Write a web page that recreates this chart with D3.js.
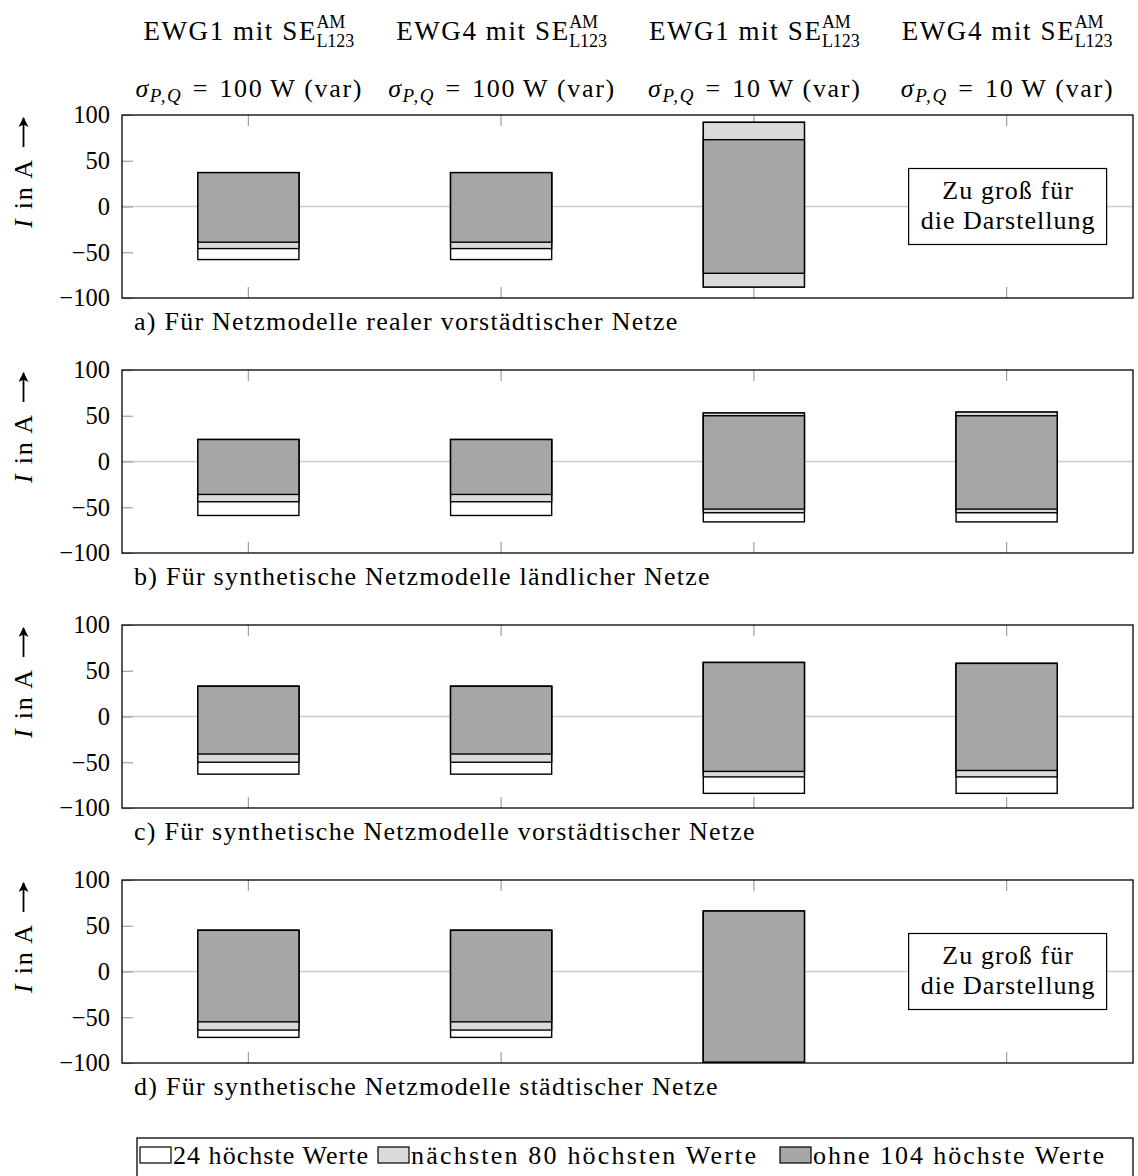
<!DOCTYPE html>
<html><head><meta charset="utf-8">
<script src="https://cdn.jsdelivr.net/npm/d3@7"></script>
<style>
body{margin:0;background:#fff}
text{font-family:"Liberation Serif","Times New Roman",serif;fill:#000}
</style>
</head><body>
<svg id="chart" width="1138" height="1176"></svg>
<script>
// ---------- data ----------
const categories = ["EWG1_100", "EWG4_100", "EWG1_10", "EWG4_10"];
const headerMain = ["EWG1 mit SE", "EWG4 mit SE", "EWG1 mit SE", "EWG4 mit SE"];
const headerSup = ["AM", "AM", "AM", "AM"];
const headerSub = ["L123", "L123", "L123", "L123"];
const sigmaValues = ["100", "100", "10", "10"];
const yTicks = [-100, -50, 0, 50, 100];
const panelTitles = [
  "a) Für Netzmodelle realer vorstädtischer Netze",
  "b) Für synthetische Netzmodelle ländlicher Netze",
  "c) Für synthetische Netzmodelle vorstädtischer Netze",
  "d) Für synthetische Netzmodelle städtischer Netze"
];
const legendLabels = ["24 höchste Werte", "nächsten 80 höchsten Werte", "ohne 104 höchste Werte"];
const tooLargeText = ["Zu groß für", "die Darstellung"];

// ranges [low, high] in A per category; null = too large to display
const aTop24  = [[-58, 37], [-58, 37], [-88, 92], null];
const aNext80 = [[-46, 37], [-46, 37], [-88, 92], null];
const aRest   = [[-39, 37], [-39, 37], [-73, 73], null];

const bTop24  = [[-59, 24], [-59, 24], [-66, 53], [-66, 54]];
const bNext80 = [[-44, 24], [-44, 24], [-56, 53], [-56, 54]];
const bRest   = [[-36, 24], [-36, 24], [-52, 50], [-52, 50]];

const cTop24  = [[-63, 33], [-63, 33], [-84, 59], [-84, 58]];
const cNext80 = [[-50, 33], [-50, 33], [-66, 59], [-66, 58]];
const cRest   = [[-41, 33], [-41, 33], [-60, 59], [-59, 58]];

const dTop24  = [[-72, 45], [-72, 45], [-99, 66], null];
const dNext80 = [[-64, 45], [-64, 45], [-99, 66], null];
const dRest   = [[-55, 45], [-55, 45], [-99, 66], null];

const panels = [
  {title: panelTitles[0], layers: [aTop24, aNext80, aRest]},
  {title: panelTitles[1], layers: [bTop24, bNext80, bRest]},
  {title: panelTitles[2], layers: [cTop24, cNext80, cRest]},
  {title: panelTitles[3], layers: [dTop24, dNext80, dRest]}
];

// ---------- styles / layout ----------
const fills = ["#ffffff", "#dadada", "#a6a6a6"];
const FS = 26, TICKFS = 24.5, WIDEN = 1.115;
const left = 122, right = 1133, plotH = 183;
const panelTops = [115, 370, 625, 880];
const legendWidths = [195, 345, 291], legendGaps = [10, 24, 0];

// stretch a text slightly to emulate the wider Computer Modern metrics
function widen(sel, k, target) {
  const w = sel.node().getComputedTextLength();
  const t = target || w * k;
  sel.attr("textLength", t).attr("lengthAdjust", "spacing");
  return t;
}

const svg = d3.select("#chart");
const x = d3.scaleBand().domain(categories).range([left, right]).paddingInner(0).paddingOuter(0);
const cx = c => x(c) + x.bandwidth() / 2;
const barW = x.bandwidth() * 0.4;

svg.append("defs").append("marker")
  .attr("id", "arr").attr("viewBox", "0 0 10 10").attr("refX", 9).attr("refY", 5)
  .attr("markerWidth", 11).attr("markerHeight", 10).attr("markerUnits", "userSpaceOnUse")
  .attr("orient", "auto")
  .append("path").attr("d", "M0,0 L10,5 L0,10 L2.5,5 Z").attr("fill", "#000");

// headers
categories.forEach((c, i) => {
  const g = svg.append("g");
  const t = g.append("text").attr("y", 40).attr("font-size", 27).text(headerMain[i]);
  const w1 = widen(t, 0, 172);
  const sp = g.append("text").attr("y", 28).attr("font-size", 18).text(headerSup[i]);
  const sb = g.append("text").attr("y", 47).attr("font-size", 18).text(headerSub[i]);
  const w2 = Math.max(sp.node().getComputedTextLength(), sb.node().getComputedTextLength());
  const x0 = cx(c) - (w1 + w2) / 2;
  t.attr("x", x0); sp.attr("x", x0 + w1 + 1); sb.attr("x", x0 + w1 + 1);

  const s = svg.append("text").attr("y", 97).attr("font-size", FS);
  s.append("tspan").attr("font-style", "italic").text("σ");
  s.append("tspan").attr("font-style", "italic").attr("font-size", 19).attr("dy", 5).text("P,Q");
  s.append("tspan").attr("dy", -5).text("\u2004=\u2004" + sigmaValues[i] + "\u2009W (var)");
  const sw = widen(s, 0, sigmaValues[i].length === 3 ? 226 : 212);
  s.attr("x", cx(c) - sw / 2);
});

// panels
panels.forEach((p, pi) => {
  const top = panelTops[pi], bottom = top + plotH;
  const y = d3.scaleLinear().domain([-100, 100]).range([bottom, top]);
  const g = svg.append("g");

  // zero grid line
  g.append("line").attr("x1", left).attr("x2", right).attr("y1", y(0)).attr("y2", y(0))
    .attr("stroke", "#cccccc").attr("stroke-width", 1.5);

  // y axis
  const ya = g.append("g").attr("transform", `translate(${left},0)`)
    .call(d3.axisLeft(y).tickValues(yTicks).tickSize(-11).tickPadding(12)
      .tickFormat(d => d < 0 ? "\u2212" + Math.abs(d) : String(d)));
  ya.select(".domain").remove();
  ya.selectAll(".tick line").attr("stroke", "#a0a0a0").attr("stroke-width", 1.2);
  ya.selectAll(".tick text").attr("font-size", TICKFS).attr("font-family", "Liberation Serif").attr("fill", "#000");

  // x ticks top and bottom
  const xb = g.append("g").attr("transform", `translate(0,${bottom})`)
    .call(d3.axisBottom(x).tickSize(-11).tickFormat(""));
  const xt = g.append("g").attr("transform", `translate(0,${top})`)
    .call(d3.axisTop(x).tickSize(-11).tickFormat(""));
  [xb, xt].forEach(a => {
    a.select(".domain").remove();
    a.selectAll(".tick line").attr("stroke", "#a0a0a0").attr("stroke-width", 1.2);
  });

  // bars
  p.layers.forEach((layer, li) => {
    g.selectAll(null).data(categories.map((c, i) => ({c, r: layer[i]})).filter(d => d.r))
      .enter().append("rect")
      .attr("x", d => cx(d.c) - barW / 2)
      .attr("width", barW)
      .attr("y", d => y(d.r[1]))
      .attr("height", d => y(d.r[0]) - y(d.r[1]))
      .attr("fill", fills[li]).attr("stroke", "#000").attr("stroke-width", 1.4);
  });

  // too large boxes
  categories.forEach((c, i) => {
    if (p.layers[0][i] === null) {
      const bw = 198, bh = 76;
      g.append("rect").attr("x", cx(c) - bw / 2 + 1).attr("y", y(0) - bh / 2)
        .attr("width", bw).attr("height", bh).attr("fill", "#fff").attr("stroke", "#000").attr("stroke-width", 1.2);
      tooLargeText.forEach((t, k) => {
        const tt = g.append("text").attr("y", y(0) - 8 + k * 30).attr("font-size", FS).text(t);
        const w = widen(tt, 1.09);
        tt.attr("x", cx(c) + 1 - w / 2);
      });
    }
  });

  // frame
  g.append("rect").attr("x", left).attr("y", top).attr("width", right - left).attr("height", plotH)
    .attr("fill", "none").attr("stroke", "#000").attr("stroke-width", 1.3);

  // y label
  const lg = g.append("g").attr("transform", `translate(32,${top + 113}) rotate(-90)`);
  const lt = lg.append("text").attr("x", 0).attr("y", 0).attr("font-size", FS);
  lt.append("tspan").attr("font-style", "italic").text("I");
  lt.append("tspan").text(" in A");
  const lw = widen(lt, 0, 68);
  lg.append("line").attr("x1", lw + 13).attr("x2", lw + 42).attr("y1", -8.5).attr("y2", -8.5)
    .attr("stroke", "#000").attr("stroke-width", 1.8).attr("marker-end", "url(#arr)");

  // panel title
  const tt = g.append("text").attr("x", 134).attr("y", bottom + 32).attr("font-size", FS).text(p.title);
  widen(tt, WIDEN);
});

// legend
const lgd = svg.append("g");
lgd.append("rect").attr("x", 137).attr("y", 1138).attr("width", 996).attr("height", 46)
  .attr("fill", "#fff").attr("stroke", "#000").attr("stroke-width", 1.3);
let lx = 140;
legendLabels.forEach((l, i) => {
  lgd.append("rect").attr("x", lx).attr("y", 1147).attr("width", 31).attr("height", 16)
    .attr("fill", fills[i]).attr("stroke", "#000").attr("stroke-width", 1.2);
  const t = lgd.append("text").attr("x", lx + 33).attr("y", 1164).attr("font-size", FS).text(l);
  const w = widen(t, 0, legendWidths[i]);
  lx += 33 + w + legendGaps[i];
});
</script>
</body></html>
